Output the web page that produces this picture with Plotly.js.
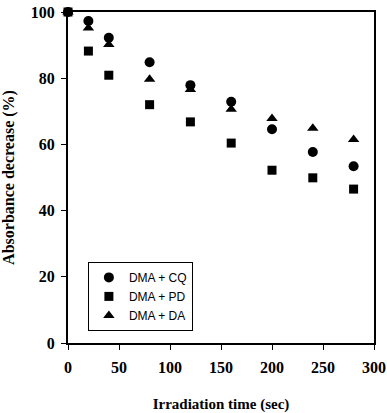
<!DOCTYPE html>
<html>
<head>
<meta charset="utf-8">
<script src="https://cdn.plot.ly/plotly-3.0.1.min.js"></script>
<style>html,body{margin:0;padding:0;background:#fff;}#chart{width:387px;height:413px;}</style>
</head>
<body>
<div id="chart"></div>
<script>
var time = [0, 20, 40, 80, 120, 160, 200, 240, 280];
var dmaCQ = [100, 97.3, 92.2, 84.8, 77.9, 72.9, 64.6, 57.7, 53.4];
var dmaPD = [100, 88.2, 80.9, 72.0, 66.8, 60.4, 52.2, 49.9, 46.5];
var dmaDA = [100, 95.2, 90.2, 79.7, 76.6, 70.6, 67.8, 64.9, 61.5];
var seriesNames = ["DMA + CQ", "DMA + PD", "DMA + DA"];
var xTicks = [0, 50, 100, 150, 200, 250, 300];
var yTicks = [0, 20, 40, 60, 80, 100];

var serif = "Liberation Serif, Times New Roman, serif";
function tr(y, name, sym, size) {
  return {x: time, y: y, name: name, type: "scatter", mode: "markers",
    marker: {symbol: sym, size: size, color: "#000"}, cliponaxis: false};
}
var data = [
  tr(dmaCQ, seriesNames[0], "circle", 10),
  tr(dmaPD, seriesNames[1], "square", 9),
  tr(dmaDA, seriesNames[2], "triangle-up", 10)
];
var axisCommon = {
  showgrid: false, zeroline: false, showline: true, linecolor: "#000", linewidth: 2,
  mirror: true, ticks: "outside", ticklen: 5, tickwidth: 1, tickcolor: "#000",
  tickfont: {family: serif, size: 16, color: "#000", weight: "bold"}
};
var layout = {
  width: 387, height: 413,
  margin: {l: 68, r: 13, t: 12, b: 70},
  paper_bgcolor: "#fff", plot_bgcolor: "#fff",
  showlegend: true,
  legend: {x: 0.065, y: 0.245, xanchor: "left", yanchor: "top",
    bordercolor: "#000", borderwidth: 1, bgcolor: "#fff",
    font: {family: "Liberation Sans, Arial, sans-serif", size: 12, color: "#000"},
    itemwidth: 30, tracegroupgap: 0},
  xaxis: Object.assign({}, axisCommon, {range: [0, 300], tickvals: xTicks,
    ticktext: xTicks.map(String), ticklabelstandoff: 4,
    title: {text: "Irradiation time (sec)", standoff: 24,
      font: {family: serif, size: 15, color: "#000", weight: "bold"}}}),
  yaxis: Object.assign({}, axisCommon, {range: [0, 100], tickvals: yTicks,
    ticktext: yTicks.map(String), ticklabelstandoff: 3,
    title: {text: "Absorbance decrease (%)", standoff: 12,
      font: {family: serif, size: 16, color: "#000", weight: "bold"}}})
};
Plotly.newPlot("chart", data, layout, {staticPlot: true});
</script>
</body>
</html>
